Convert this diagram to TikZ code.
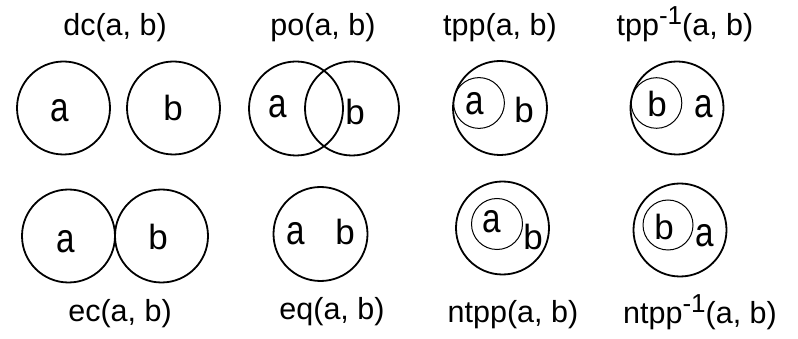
\documentclass[tikz,border=0pt]{standalone}
\usepackage{fontspec}
\usepackage{graphicx}
\setmainfont{Liberation Sans}
\begin{document}
\begin{tikzpicture}[x=1pt,y=-1pt,
  outer/.style={line width=1.8pt},
  inner/.style={line width=1pt},
  lbl/.style={anchor=base,inner sep=0pt,font=\fontsize{35}{35}\selectfont},
  ttl/.style={anchor=base,inner sep=0pt,font=\fontsize{30.5}{30.5}\selectfont}]
\newcommand{\inv}{\raisebox{11pt}{\fontsize{26}{26}\selectfont -1}}
\newcommand{\ta}{\scalebox{0.95}[1.17]{a}}
\useasboundingbox (0,0) rectangle (798,339);
% titles
\node[ttl] (t1) at (115,36) {dc(a, b)};
\node[ttl] (t2) at (323,36) {po(a, b)};
\node[ttl] (t3) at (500,36) {tpp(a, b)};
\node[ttl] (t4) at (685,36) {tpp\inv(a, b)};
\node[ttl] (t5) at (120,321) {ec(a, b)};
\node[ttl] (t6) at (332,319) {eq(a, b)};
\node[ttl] (t7) at (513,322) {ntpp(a, b)};
\node[ttl] (t8) at (700,323) {ntpp\inv(a, b)};
% dc
\draw[outer] (63.5,108) circle (46.5);
\draw[outer] (173.5,108) circle (46.5);
\node[lbl] (dca) at (60,122) {\ta};
\node[lbl] (dcb) at (173,121) {b};
% po
\draw[outer] (296,108.5) circle (47);
\draw[outer] (352,108.5) circle (47);
\node[lbl] (poa) at (278,118) {\ta};
\node[lbl] (pob) at (355,125) {b};
% tpp
\draw[outer] (500,108) circle (47);
\draw[inner] (479,103) circle (25.4);
\node[lbl] (tppa) at (475,115) {\ta};
\node[lbl] (tppb) at (524,123) {b};
% tpp^-1
\draw[outer] (677,108) circle (46.5);
\draw[inner] (656.5,103) circle (25.3);
\node[lbl] (tpib) at (657,117) {b};
\node[lbl] (tpia) at (704,118) {\ta};
% ec
\draw[outer] (68.5,236) circle (46.5);
\draw[outer] (161.5,236) circle (46.5);
\node[lbl] (eca) at (66,252) {\ta};
\node[lbl] (ecb) at (158,250) {b};
% eq
\draw[outer] (320.5,234) circle (47);
\node[lbl] (eqa) at (296,245) {\ta};
\node[lbl] (eqb) at (345,245) {b};
% ntpp
\draw[outer] (502.5,228) circle (46.5);
\draw[inner] (497,224) circle (25.5);
\node[lbl] (ntpa) at (492,233) {\ta};
\node[lbl] (ntpb) at (533,250) {b};
% ntpp^-1
\draw[outer] (680,230) circle (46.5);
\draw[inner] (668,225) circle (25);
\node[lbl] (ntib) at (664,240) {b};
\node[lbl] (ntia) at (705,247) {\ta};
\end{tikzpicture}
\end{document}
